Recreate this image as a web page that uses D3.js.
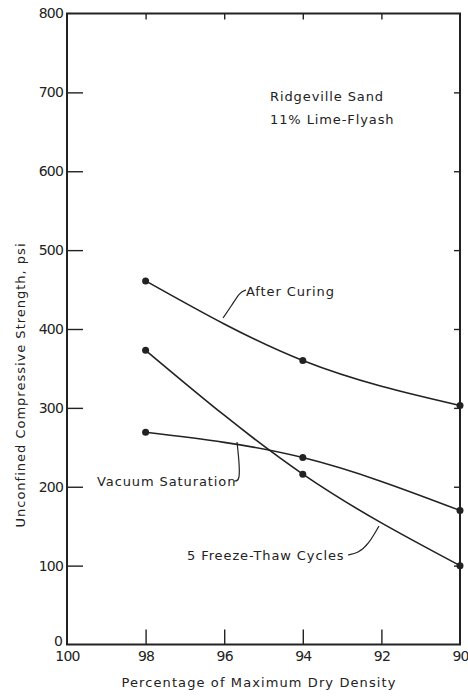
<!DOCTYPE html>
<html>
<head>
<meta charset="utf-8">
<script src="https://d3js.org/d3.v7.min.js"></script>
<style>
  body { margin: 0; background: #fff; }
  svg text { font-family: "DejaVu Sans", sans-serif; fill: #222; }
</style>
</head>
<body>
<svg id="chart" width="468" height="697"></svg>
<script>
// values
const density = [98, 94, 90]
const afterCuring = [461, 360, 303]
const freezeThaw = [373, 216, 100]
const vacuumSat = [269, 237, 170]
const xTicks = [100, 98, 96, 94, 92, 90]
const yTicks = [0, 100, 200, 300, 400, 500, 600, 700, 800]

const svg = d3.select("#chart")
const x = d3.scaleLinear().domain([100, 90]).range([67, 460])
const y = d3.scaleLinear().domain([0, 800]).range([644.5, 13.5])

// frame
svg.append("rect")
  .attr("x", x(100)).attr("y", y(800))
  .attr("width", x(90) - x(100)).attr("height", y(0) - y(800))
  .style("fill", "none").style("stroke", "#222").style("stroke-width", 2)

// left axis, ticks point inward
const leftAxis = svg.append("g")
  .attr("transform", "translate(" + x(100) + ",0)")
  .call(d3.axisLeft(y).tickValues(yTicks).tickSizeInner(-16).tickSizeOuter(0).tickPadding(4))
leftAxis.select(".domain").remove()
leftAxis.selectAll(".tick line").filter(d => d == 0 || d == 800).remove()
leftAxis.selectAll("text").style("font-size", "14px").style("letter-spacing", "-0.8px")
leftAxis.selectAll(".tick").filter(d => d == 0).select("text").attr("dy", "0.05em").attr("x", -5)

// bottom axis
const bottomAxis = svg.append("g")
  .attr("transform", "translate(0," + y(0) + ")")
  .call(d3.axisBottom(x).tickValues(xTicks).tickSizeInner(-15).tickSizeOuter(0).tickPadding(7))
bottomAxis.select(".domain").remove()
bottomAxis.selectAll(".tick line").filter(d => d == 100 || d == 90).remove()
bottomAxis.selectAll("text").style("font-size", "14px").style("letter-spacing", "-0.8px")

// top and right short ticks
const topAxis = svg.append("g")
  .attr("transform", "translate(0," + y(800) + ")")
  .call(d3.axisTop(x).tickValues([98, 96, 94, 92]).tickSizeInner(-6).tickSizeOuter(0).tickFormat(""))
topAxis.select(".domain").remove()
const rightAxis = svg.append("g")
  .attr("transform", "translate(" + x(90) + ",0)")
  .call(d3.axisRight(y).tickValues([100, 200, 300, 400, 500, 600, 700]).tickSizeInner(-6).tickSizeOuter(0).tickFormat(""))
rightAxis.select(".domain").remove()
svg.selectAll(".tick line").style("stroke", "#222").style("stroke-width", 1.4)

// curves
const line = d3.line()
  .x((d, i) => x(density[i]))
  .y(d => y(d))
  .curve(d3.curveMonotoneX)
const series = [afterCuring, freezeThaw, vacuumSat]
series.forEach(s => {
  svg.append("path").datum(s).attr("d", line)
    .style("fill", "none").style("stroke", "#222").style("stroke-width", 1.6)
  svg.selectAll(null).data(s).enter().append("circle")
    .attr("cx", (d, i) => x(density[i]))
    .attr("cy", d => y(d))
    .attr("r", 3.5)
    .style("fill", "#222")
})

// leaders and labels
const lbl = { "font-size": "13px", "letter-spacing": "0.9px" }
function label(t, xx, yy) {
  const e = svg.append("text").attr("x", xx).attr("y", yy).text(t)
  Object.keys(lbl).forEach(k => e.style(k, lbl[k]))
  return e
}
const leader = (pts) => svg.append("path").attr("d", d3.line().curve(d3.curveBasis)(pts))
  .style("fill", "none").style("stroke", "#222").style("stroke-width", 1.2)

label("After Curing", 246, 296)
leader([[223, 318], [232, 305], [240, 292], [246, 290]])
label("Vacuum Saturation", 97, 486)
leader([[234, 481], [240, 481], [239, 460], [237, 442]])
label("5 Freeze-Thaw Cycles", 187, 560)
leader([[348, 555], [358, 553], [368, 545], [379, 526]])

label("Ridgeville Sand", 270, 101)
label("11% Lime-Flyash", 270, 124)

// axis titles
svg.append("text")
  .attr("transform", "translate(25,385) rotate(-90)")
  .attr("text-anchor", "middle")
  .style("font-size", "13px").style("letter-spacing", "1px")
  .text("Unconfined Compressive Strength, psi")
svg.append("text")
  .attr("x", 259).attr("y", 687)
  .attr("text-anchor", "middle")
  .style("font-size", "13px").style("letter-spacing", "1.1px")
  .text("Percentage of Maximum Dry Density")
</script>
</body>
</html>
